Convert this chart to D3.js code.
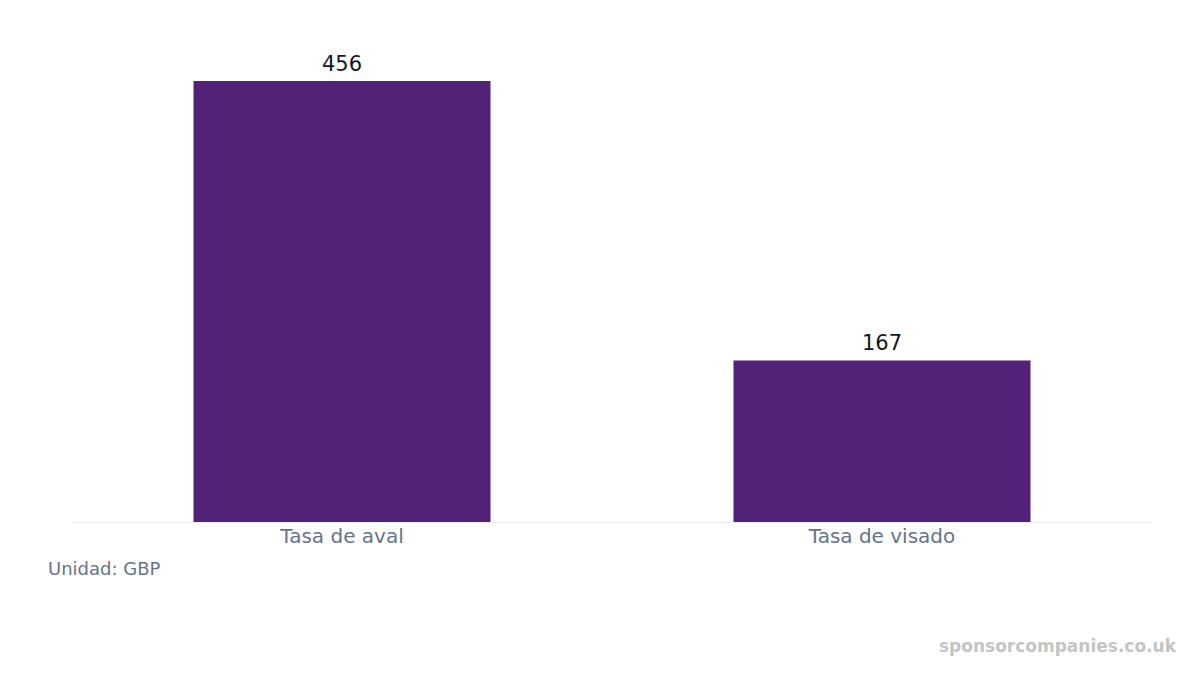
<!DOCTYPE html>
<html><head><meta charset="utf-8">
<script src="https://cdn.jsdelivr.net/npm/d3@7"></script>
<style>body{margin:0;background:#fff}svg{font-family:"DejaVu Sans",sans-serif}</style>
</head><body><svg id="c" width="1200" height="675"></svg>
<script>
const categories = ["Tasa de aval", "Tasa de visado"];
const values = [456, 167];
const unitLabel = "Unidad: GBP";
const watermark = "sponsorcompanies.co.uk";

const svg = d3.select("#c");
const x = d3.scaleBand().domain(categories).range([72, 1152]).paddingInner(0.45).paddingOuter(0.225);
const y = d3.scaleLinear().domain([0, 456]).range([522, 81]);

svg.append("line").attr("x1", 72).attr("x2", 1152).attr("y1", 522.5).attr("y2", 522.5)
  .attr("stroke", "#eeeef2").attr("stroke-width", 1);

svg.selectAll("rect.bar").data(values).join("rect").attr("class", "bar")
  .attr("x", (d, i) => x(categories[i])).attr("width", x.bandwidth())
  .attr("y", d => y(d)).attr("height", d => y(0) - y(d)).attr("fill", "#522178");

svg.selectAll("text.val").data(values).join("text").attr("class", "val")
  .attr("x", (d, i) => x(categories[i]) + x.bandwidth() / 2).attr("y", d => y(d) - 10)
  .attr("text-anchor", "middle").attr("font-size", 21).attr("fill", "#111827").text(d => d);

svg.selectAll("text.cat").data(categories).join("text").attr("class", "cat")
  .attr("x", d => x(d) + x.bandwidth() / 2).attr("y", 543)
  .attr("text-anchor", "middle").attr("font-size", 20).attr("fill", "#64748b").text(d => d);

svg.append("text").attr("x", 48).attr("y", 575).attr("font-size", 18).attr("fill", "#64748b").text(unitLabel);
svg.append("text").attr("x", 1176).attr("y", 652).attr("text-anchor", "end").attr("font-size", 17)
  .attr("font-weight", "bold").attr("fill", "#c4c4c4").text(watermark);
</script></body></html>
